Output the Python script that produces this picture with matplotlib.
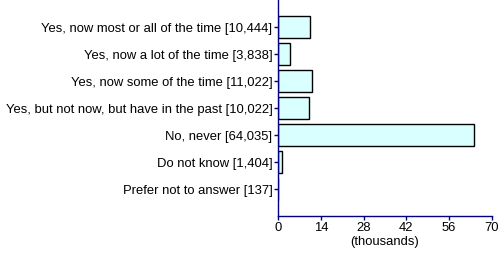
import matplotlib
matplotlib.use("Agg")
import matplotlib.pyplot as plt

categories = [
    "Yes, now most or all of the time [10,444]",
    "Yes, now a lot of the time [3,838]",
    "Yes, now some of the time [11,022]",
    "Yes, but not now, but have in the past [10,022]",
    "No, never [64,035]",
    "Do not know [1,404]",
    "Prefer not to answer [137]",
]
values = [10444, 3838, 11022, 10022, 64035, 1404, 137]
xticks = [0, 14, 28, 42, 56, 70]

plt.rcParams['font.family'] = ['Liberation Sans', 'DejaVu Sans']
fs = 9.4
fig = plt.figure(figsize=(5, 2.54), dpi=100)
ax = fig.add_axes([0.556, 0.1496, 0.428, 0.8504])

pos = list(range(1, len(categories) + 1))
ax.barh(pos, [v / 1000 for v in values], height=0.85, color='#D9FFFF',
        edgecolor='black', linewidth=1)
ax.set_ylim(8, 0)
ax.set_xlim(0, 70)
ax.set_yticks(pos)
ax.set_yticklabels(categories, fontsize=fs)
ax.set_xticks(xticks)
ax.set_xticklabels([str(t) for t in xticks], fontsize=fs)
ax.set_xlabel("(thousands)", fontsize=fs, labelpad=1)
for s in ['top', 'right']:
    ax.spines[s].set_visible(False)
for s in ['left', 'bottom']:
    ax.spines[s].set_color('#000080')
    ax.spines[s].set_linewidth(1)
ax.tick_params(axis='y', colors='#000080', length=3, width=1, pad=1, labelcolor='black')
ax.tick_params(axis='x', colors='#000080', length=3, width=1, pad=1.5, labelcolor='black')
fig.savefig("out.png", dpi=100)
